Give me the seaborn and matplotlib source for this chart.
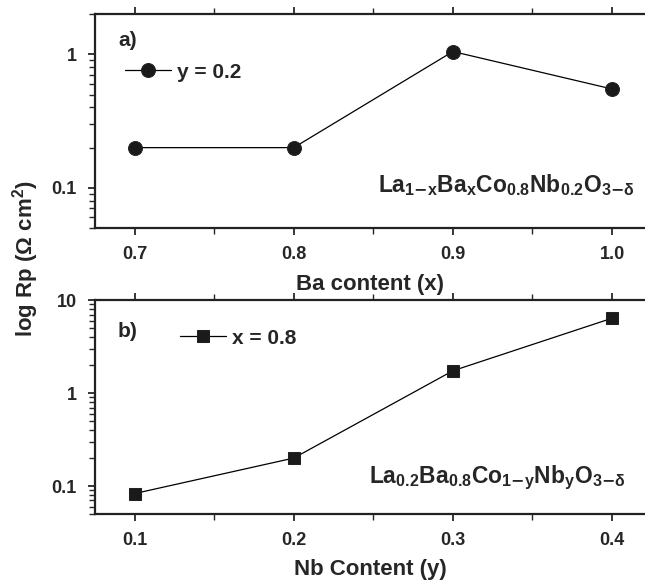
import numpy as np
import pandas as pd
import seaborn as sns
import matplotlib.pyplot as plt
from matplotlib.ticker import LogLocator, FixedLocator, NullFormatter, FuncFormatter

# panel a: La1-xBaxCo0.8Nb0.2O3-d, y = 0.2
ba_content = [0.7, 0.8, 0.9, 1.0]
rp_ba = [0.20, 0.20, 1.05, 0.55]

# panel b: La0.2Ba0.8Co1-yNbyO3-d, x = 0.8
nb_content = [0.1, 0.2, 0.3, 0.4]
rp_nb = [0.083, 0.20, 1.74, 6.4]

sns.set_style('ticks')
plt.rcParams['font.family'] = ['Liberation Sans', 'DejaVu Sans']
plt.rcParams['font.weight'] = 'bold'
plt.rcParams['mathtext.fontset'] = 'custom'
plt.rcParams['mathtext.rm'] = 'Liberation Sans:bold'
plt.rcParams['mathtext.it'] = 'Liberation Sans:bold'
plt.rcParams['mathtext.bf'] = 'Liberation Sans:bold'

fig = plt.figure(figsize=(6.45, 5.81), dpi=100)
ax1 = fig.add_axes([0.147, 0.6076, 0.853, 0.368])
ax2 = fig.add_axes([0.147, 0.1153, 0.853, 0.368])

df_a = pd.DataFrame({'x': ba_content, 'rp': rp_ba})
df_b = pd.DataFrame({'x': nb_content, 'rp': rp_nb})

sns.lineplot(data=df_a, x='x', y='rp', ax=ax1, color='black', lw=0.9,
             marker='o', markersize=10, markeredgecolor='#222222',
             markerfacecolor='#1a1a1a', label='y = 0.2')
sns.lineplot(data=df_b, x='x', y='rp', ax=ax2, color='black', lw=0.9,
             marker='s', markersize=8, markeredgecolor='#222222',
             markerfacecolor='#1a1a1a', label='x = 0.8')


def fmt(v, pos):
    return ('%g' % v)


for ax, ylim in [(ax1, (0.05, 2)), (ax2, (0.05, 10))]:
    ax.set_yscale('log')
    ax.set_ylim(*ylim)
    ax.yaxis.set_major_locator(LogLocator(base=10))
    ax.yaxis.set_minor_locator(LogLocator(base=10, subs=np.arange(2, 10)))
    ax.yaxis.set_major_formatter(FuncFormatter(fmt))
    ax.yaxis.set_minor_formatter(NullFormatter())
    for s in ['left', 'bottom', 'top']:
        ax.spines[s].set_linewidth(1.6)
        ax.spines[s].set_color('#222222')
    ax.spines['right'].set_visible(False)
    ax.tick_params(axis='both', which='major', direction='out', length=5,
                   width=1.3, labelsize=13, pad=8)
    ax.tick_params(axis='both', which='minor', direction='out', length=4, width=1.0)
    ax.tick_params(axis='x', which='both', top=True)
    ax.set_ylabel('')

for tl in ax1.get_yticklabels() + ax2.get_yticklabels():
    tl.set_fontweight('bold')

ax1.set_xlim(0.675, 1.0207)
ax1.xaxis.set_major_locator(FixedLocator(ba_content))
ax1.xaxis.set_minor_locator(FixedLocator([0.75, 0.85, 0.95]))
ax1.set_xticklabels(['0.7', '0.8', '0.9', '1.0'], fontweight='bold')
ax1.set_xlabel('Ba content (x)', fontsize=16, fontweight='bold', labelpad=8)

ax2.set_xlim(0.075, 0.4207)
ax2.xaxis.set_major_locator(FixedLocator(nb_content))
ax2.xaxis.set_minor_locator(FixedLocator([0.15, 0.25, 0.35]))
ax2.set_xticklabels(['0.1', '0.2', '0.3', '0.4'], fontweight='bold')
ax2.set_xlabel('Nb Content (y)', fontsize=16, fontweight='bold', labelpad=7)

# legends
ax1.legend(loc='center left', bbox_to_anchor=(0.055, 0.729), frameon=False,
           fontsize=15, handlelength=2.2, handletextpad=0.3, borderpad=0,
           borderaxespad=0)
ax2.legend(loc='center left', bbox_to_anchor=(0.155, 0.822), frameon=False,
           fontsize=15, handlelength=2.2, handletextpad=0.3, borderpad=0,
           borderaxespad=0)

ax1.text(0.042, 0.878, 'a)', transform=ax1.transAxes, fontsize=15, fontweight='bold', va='center')
ax2.text(0.042, 0.852, 'b)', transform=ax2.transAxes, fontsize=15, fontweight='bold', va='center')

ax1.text(0.98, 0.20, r'La$_{1\mathsf{-}x}$Ba$_x$Co$_{0.8}$Nb$_{0.2}$O$_{3\mathsf{-}\delta}$',
         transform=ax1.transAxes, fontsize=16.5, ha='right', va='center')
ax2.text(0.964, 0.17, r'La$_{0.2}$Ba$_{0.8}$Co$_{1\mathsf{-}y}$Nb$_y$O$_{3\mathsf{-}\delta}$',
         transform=ax2.transAxes, fontsize=16.5, ha='right', va='center')

fig.text(0.04, 0.555, r'log Rp ($\Omega$ cm$^\mathbf{2}$)', rotation=90, fontsize=16,
         fontweight='bold', ha='center', va='center')

fig.savefig('out.png', dpi=100)
